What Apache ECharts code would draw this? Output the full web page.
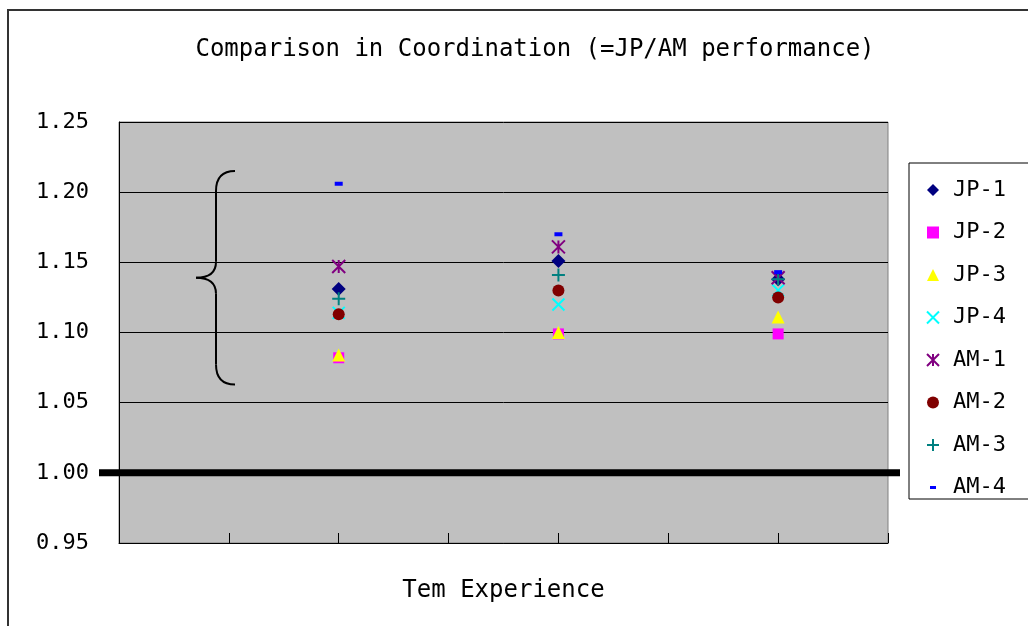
<!DOCTYPE html>
<html><head><meta charset="utf-8">
<script src="https://cdn.jsdelivr.net/npm/echarts@6/dist/echarts.min.js"></script>
<style>html,body{margin:0;padding:0;background:#fff}#c{width:1028px;height:626px}</style>
</head><body><div id="c"></div>
<script>
var xPositions = [2, 4, 6];
var seriesNames = ['JP-1','JP-2','JP-3','JP-4','AM-1','AM-2','AM-3','AM-4'];
var jp1 = [1.131, 1.151, 1.138];
var jp2 = [1.082, 1.099, 1.099];
var jp3 = [1.084, 1.100, 1.111];
var jp4 = [1.114, 1.120, 1.130];
var am1 = [1.147, 1.161, 1.139];
var am2 = [1.113, 1.130, 1.125];
var am3 = [1.124, 1.141, 1.138];
var am4 = [1.206, 1.170, 1.143];
var yTicks = [0.95, 1.00, 1.05, 1.10, 1.15, 1.20, 1.25];
var refValue = 1.00;

var values = [jp1, jp2, jp3, jp4, am1, am2, am3, am4];
var colors = ['#000080','#FF00FF','#FFFF00','#00FFFF','#800080','#800000','#008080','#0000FF'];
var symbols = [
  'diamond', 'rect', 'triangle',
  'path://M0,0L10,10M10,0L0,10',
  'path://M0,0L10,10M10,0L0,10M5,0L5,10',
  'circle',
  'path://M5,0L5,10M0,5L10,5',
  'rect'
];
var legendIcons = [
  'diamond', 'rect', 'triangle',
  'path://M0,0L10,10M10,0L0,10',
  'path://M0,0L10,10M10,0L0,10M5,0L5,10',
  'circle',
  'path://M5,0L5,10M0,5L10,5',
  'path://M0,0L0.01,0L0,0.01Z M3,4.5L9,4.5L9,7.5L3,7.5Z M12,12L11.99,12L12,11.99Z'
];
var sizes = [14, 11, 13, 12, 13, 12, 13, [8,4]];
var stroked = [false,false,false,true,true,false,true,false];

var font = '"DejaVu Sans Mono", monospace';
var chart = echarts.init(document.getElementById('c'));
var series = seriesNames.map(function(n, i){
  return {
    name: n, type: 'scatter',
    data: values[i].map(function(v, k){ return [xPositions[k], v]; }),
    symbol: symbols[i], symbolSize: sizes[i],
    itemStyle: stroked[i] ? {color: 'rgba(0,0,0,0)', borderColor: colors[i], borderWidth: 2, opacity: 1} : {color: colors[i], opacity: 1},
    z: 5
  };
});
chart.setOption({
  animation: false,
  title: {text: 'Comparison in Coordination (=JP/AM performance)', left: 530, textAlign: 'center', top: 33,
    textStyle: {fontFamily: font, fontSize: 24, fontWeight: 'normal', color: '#000'}},
  grid: {left: 119, top: 122, right: 140, bottom: 83, show: true, backgroundColor: '#C0C0C0', borderColor: '#808080', borderWidth: 1},
  legend: {
    orient: 'vertical', left: 926, top: 179, padding: 0, itemGap: 20.5, itemWidth: 12, itemHeight: 12,
    data: seriesNames.map(function(n, i){ return {name: n, icon: legendIcons[i]}; }),
    textStyle: {fontFamily: font, fontSize: 22, color: '#000', padding: [0, 0, 0, 9]}
  },
  xAxis: {
    type: 'value', min: 0, max: 7, interval: 1,
    name: 'Tem Experience', nameLocation: 'middle', nameGap: 36,
    nameTextStyle: {fontFamily: font, fontSize: 24, color: '#000'},
    axisLine: {lineStyle: {color: '#000', width: 1}},
    axisTick: {inside: true, length: 10, lineStyle: {color: '#000'}},
    axisLabel: {show: false}, splitLine: {show: false}
  },
  yAxis: {
    type: 'value', min: yTicks[0], max: yTicks[yTicks.length-1], interval: 0.05,
    axisLine: {show: true, lineStyle: {color: '#000', width: 1}},
    axisTick: {show: true, inside: true, length: 10, lineStyle: {color: '#000'}},
    axisLabel: {margin: 30, fontFamily: font, fontSize: 22, color: '#000', formatter: function(v){ return v.toFixed(2); }},
    splitLine: {lineStyle: {color: '#000', width: 1}}
  },
  series: series
});

var p0 = chart.convertToPixel({gridIndex: 0}, [0, refValue]);
var p1 = chart.convertToPixel({gridIndex: 0}, [7, refValue]);
var topP = chart.convertToPixel({gridIndex: 0}, [0, 1.215]);
var botP = chart.convertToPixel({gridIndex: 0}, [0, 1.063]);
var bx = 216, ty = topP[1], by = botP[1], my = (ty + by) / 2;
var bs = {fill: 'none', stroke: '#000', lineWidth: 2};
function bez(a,b,c,d,e,f,g,h){ return {type: 'bezierCurve', shape: {x1:a,y1:b,cpx1:c,cpy1:d,cpx2:e,cpy2:f,x2:g,y2:h}, style: bs, z: 4, silent: true}; }
function ln(a,b,c,d){ return {type: 'line', shape: {x1:a,y1:b,x2:c,y2:d}, style: bs, z: 4, silent: true}; }
chart.setOption({
  graphic: [
    {type: 'rect', shape: {x: 8, y: 10, width: 1040, height: 640}, style: {fill: 'none', stroke: '#333', lineWidth: 2}, z: 0, silent: true},
    {type: 'rect', shape: {x: 909, y: 163, width: 140, height: 336}, style: {fill: '#fff', stroke: '#000', lineWidth: 1}, z: -1, silent: true},
    {type: 'line', shape: {x1: p0[0]-20, y1: p0[1], x2: p1[0]+12, y2: p1[1]}, style: {stroke: '#000', lineWidth: 7}, z: 4, silent: true},
    bez(bx+19, ty, bx+5, ty, bx, ty+8, bx, ty+20),
    ln(bx, ty+20, bx, my-16),
    bez(bx, my-16, bx, my-4, bx-8, my, bx-20, my),
    bez(bx-20, my, bx-8, my, bx, my+4, bx, my+16),
    ln(bx, my+16, bx, by-20),
    bez(bx, by-20, bx, by-8, bx+5, by, bx+19, by)
  ]
});
</script></body></html>
